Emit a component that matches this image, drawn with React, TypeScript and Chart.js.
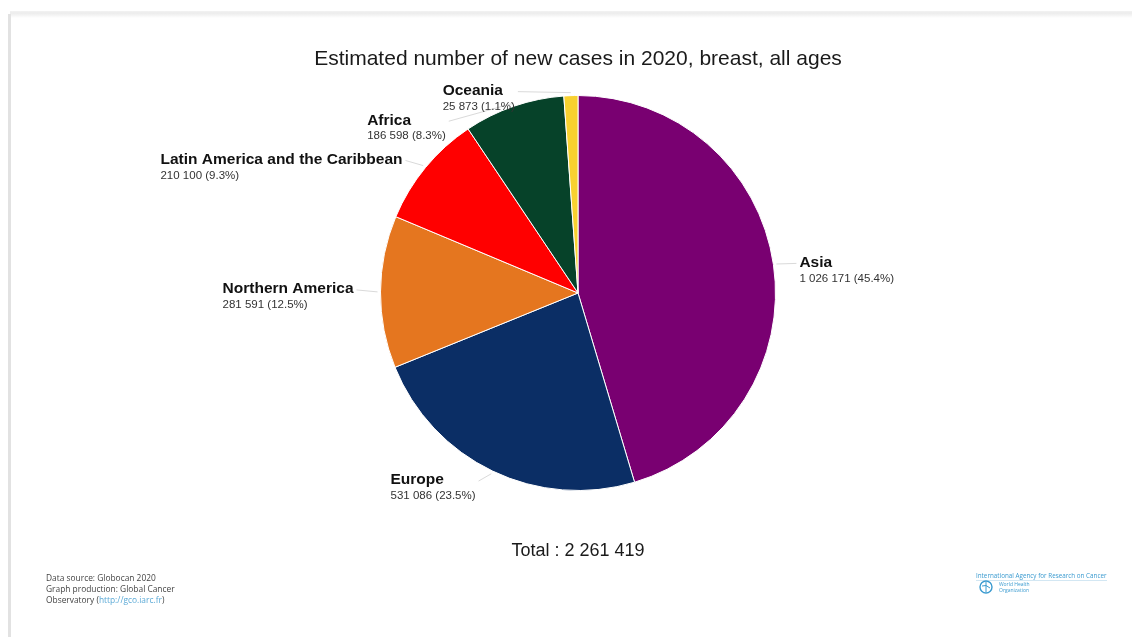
import React, { useEffect, useRef } from "react";
import { Chart, registerables } from "chart.js";

Chart.register(...registerables);

// Breast cancer, estimated new cases in 2020 by region
const categories = [
  "Asia",
  "Europe",
  "Northern America",
  "Latin America and the Caribbean",
  "Africa",
  "Oceania",
];
const newCases = [1026171, 531086, 281591, 210100, 186598, 25873];
const sliceColors = ["#790071", "#0b2e65", "#e5761f", "#ff0000", "#064229", "#f8d130"];

const titleText = "Estimated number of new cases in 2020, breast, all ages";
const footerLines = ["Data source: Globocan 2020", "Graph production: Global Cancer", "Observatory ("];
const footerLink = "http://gco.iarc.fr";

// Label placement relative to each slice's outer mid-point (side, x shift, y shift)
const labelLayout: Record<string, { side: "left" | "right"; dx: number; dy: number }> = {
  Asia: { side: "right", dx: 26, dy: -2 },
  Europe: { side: "left", dx: -17, dy: 9 },
  "Northern America": { side: "left", dx: -27, dy: -3 },
  "Latin America and the Caribbean": { side: "left", dx: -23, dy: -8 },
  Africa: { side: "left", dx: -68, dy: 14 },
  Oceania: { side: "left", dx: -56, dy: -5 },
};

const W = 1132;
const H = 637;
const FONT = '"Liberation Sans", Arial, sans-serif';
const NAME_FONT = `bold 15.5px ${FONT}`;
const VALUE_FONT = `11.5px ${FONT}`;
const VALUE_GAP = 16;

const formatNumber = (n: number) => String(n).replace(/\B(?=(\d{3})+(?!\d))/g, " ");

const total = newCases.reduce((a, b) => a + b, 0);

const decorPlugin = {
  id: "decor",
  beforeDraw(chart: any) {
    const ctx = chart.ctx as CanvasRenderingContext2D;
    ctx.save();
    ctx.fillStyle = "#ffffff";
    ctx.fillRect(0, 0, W, H);
    // card edges
    const g = ctx.createLinearGradient(0, 11, 0, 18);
    g.addColorStop(0, "#f3f3f3");
    g.addColorStop(0.3, "#ececec");
    g.addColorStop(1, "#ffffff");
    ctx.fillStyle = g;
    ctx.fillRect(10, 11, W - 10, 7);
    ctx.fillStyle = "#e2e2e2";
    ctx.fillRect(8, 14, 3, H - 14);
    ctx.restore();
  },
  afterDatasetsDraw(chart: any) {
    const ctx = chart.ctx as CanvasRenderingContext2D;
    const meta = chart.getDatasetMeta(0);
    ctx.save();

    // title
    ctx.fillStyle = "#1a1a1a";
    ctx.font = `21px ${FONT}`;
    ctx.textAlign = "center";
    ctx.textBaseline = "middle";
    const cx = (chart.chartArea.left + chart.chartArea.right) / 2;
    ctx.fillText(titleText, cx, 59);

    // slice labels
    meta.data.forEach((arc: any, i: number) => {
      const p = arc.getProps(["x", "y", "startAngle", "endAngle", "outerRadius"], true);
      const mid = (p.startAngle + p.endAngle) / 2;
      const ex = p.x + Math.cos(mid) * p.outerRadius;
      const ey = p.y + Math.sin(mid) * p.outerRadius;
      const name = categories[i];
      const lay = labelLayout[name];
      const pct = ((newCases[i] / total) * 100).toFixed(1);
      const valueText = `${formatNumber(newCases[i])} (${pct}%)`;

      ctx.font = NAME_FONT;
      const nameW = ctx.measureText(name).width;
      ctx.font = VALUE_FONT;
      const valW = ctx.measureText(valueText).width;
      const blockW = Math.max(nameW, valW);
      const anchorX = ex + lay.dx;
      const nameY = ey + lay.dy;
      const left = lay.side === "right" ? anchorX : anchorX - blockW;

      // leader line
      ctx.strokeStyle = "#dadada";
      ctx.lineWidth = 1;
      ctx.beginPath();
      const sx = ex + Math.cos(mid) * 3;
      const sy = ey + Math.sin(mid) * 3;
      ctx.moveTo(sx, sy);
      ctx.lineTo(lay.side === "right" ? anchorX - 3 : anchorX + 3, nameY + 1);
      ctx.stroke();

      ctx.textAlign = "left";
      ctx.textBaseline = "middle";
      ctx.fillStyle = "#111111";
      ctx.font = NAME_FONT;
      ctx.fillText(name, left, nameY);
      ctx.fillStyle = "#333333";
      ctx.font = VALUE_FONT;
      ctx.fillText(valueText, left, nameY + VALUE_GAP);
    });

    // total
    ctx.fillStyle = "#1a1a1a";
    ctx.font = `18px ${FONT}`;
    ctx.textAlign = "center";
    ctx.fillText(`Total : ${formatNumber(total)}`, cx, 551);

    // source note
    ctx.textAlign = "left";
    ctx.font = `8.4px "Open Sans", sans-serif`;
    ctx.fillStyle = "#444444";
    footerLines.forEach((t, k) => {
      ctx.fillText(t, 46, 579 + k * 11);
    });
    const obsW = ctx.measureText(footerLines[2]).width;
    ctx.fillStyle = "#5aa9d6";
    ctx.fillText(footerLink, 46 + obsW, 601);
    const linkW = ctx.measureText(footerLink).width;
    ctx.fillStyle = "#444444";
    ctx.fillText(")", 46 + obsW + linkW, 601);

    // agency marks
    ctx.fillStyle = "#3b9bd0";
    ctx.font = `6.3px "Open Sans", sans-serif`;
    ctx.fillText("International Agency for Research on Cancer", 976, 576);
    ctx.strokeStyle = "#d3e7f3";
    ctx.beginPath();
    ctx.moveTo(976, 580.5);
    ctx.lineTo(1107, 580.5);
    ctx.stroke();
    ctx.strokeStyle = "#3b9bd0";
    ctx.lineWidth = 1.4;
    ctx.beginPath();
    ctx.arc(986, 587, 6, 0, Math.PI * 2);
    ctx.stroke();
    ctx.lineWidth = 1;
    ctx.beginPath();
    ctx.moveTo(986, 582);
    ctx.lineTo(986, 592);
    ctx.moveTo(982, 586);
    ctx.quadraticCurveTo(986, 584, 990, 588);
    ctx.stroke();
    ctx.font = `5px "Open Sans", sans-serif`;
    ctx.fillText("World Health", 999, 585);
    ctx.fillText("Organization", 999, 591);

    ctx.restore();
  },
};

export default function App() {
  const canvasRef = useRef<HTMLCanvasElement | null>(null);

  useEffect(() => {
    if (!canvasRef.current) return;
    const chart = new Chart(canvasRef.current, {
      type: "pie",
      data: {
        labels: categories,
        datasets: [
          {
            data: newCases,
            backgroundColor: sliceColors,
            borderColor: "#ffffff",
            borderWidth: 1,
          },
        ],
      },
      options: {
        responsive: false,
        animation: false,
        layout: { padding: { top: 95, bottom: 146, left: 380, right: 356 } },
        plugins: {
          legend: { display: false },
          tooltip: { enabled: false },
          title: { display: false },
        },
      },
      plugins: [decorPlugin],
    });
    return () => chart.destroy();
  }, []);

  return (
    <div style={{ position: "fixed", left: 0, top: 0, width: W, height: H, background: "#fff" }}>
      <canvas ref={canvasRef} width={W} height={H} style={{ display: "block", width: W, height: H }} />
    </div>
  );
}
